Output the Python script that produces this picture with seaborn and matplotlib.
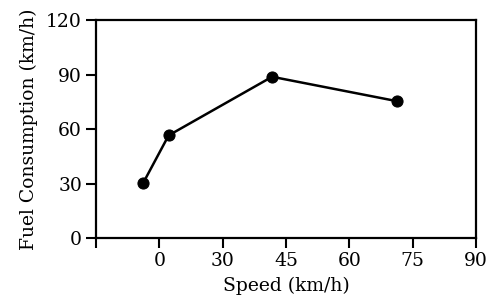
import pandas as pd
import seaborn as sns
import matplotlib.pyplot as plt

# values
speed = [11.2, 17.2, 41.7, 71.2]
fuel = [30.4, 56.5, 88.8, 75.4]
x_ticks = [0, 15, 30, 45, 60, 75, 90]
x_labels = ['', '0', '30', '45', '60', '75', '90']
y_ticks = [0, 30, 60, 90, 120]

df = pd.DataFrame({'speed': speed, 'fuel': fuel})

sns.set_style('ticks')
plt.rcParams['font.family'] = ['DejaVu Serif']

fig = plt.figure(figsize=(4.91, 3.05), dpi=100)
ax = fig.add_axes([0.1955, 0.2197, 0.774, 0.7143])

sns.lineplot(data=df, x='speed', y='fuel', color='black', linewidth=1.8,
             marker='o', markersize=8, markeredgecolor='black', ax=ax)

ax.set_xlim(0, 90)
ax.set_ylim(0, 120)
ax.set_xticks(x_ticks)
ax.set_xticklabels(x_labels)
ax.set_yticks(y_ticks)
ax.tick_params(direction='out', length=7, width=1.5, labelsize=13.5,
               colors='black', pad=3)
for s in ax.spines.values():
    s.set_visible(True)
    s.set_linewidth(1.6)
    s.set_color('black')

ax.set_xlabel('Speed (km/h)', fontsize=13.5, labelpad=5, color='black')
ax.set_ylabel('Fuel Consumption (km/h)', fontsize=13.5, labelpad=6,
              color='black')

fig.savefig('out.png', dpi=100)
